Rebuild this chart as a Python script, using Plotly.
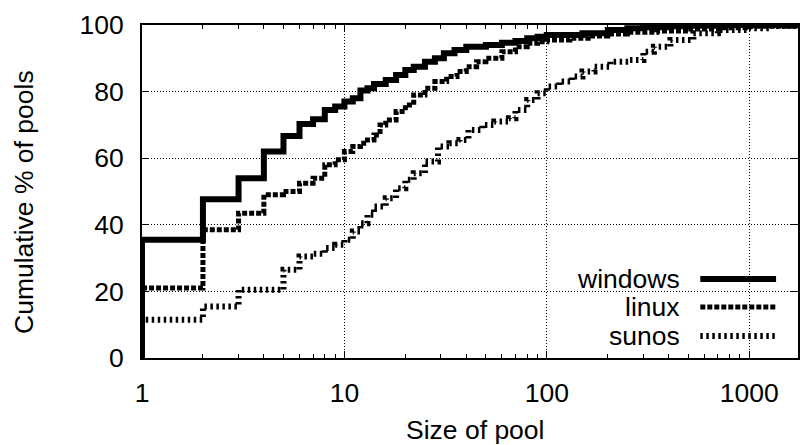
import plotly.graph_objects as go

# ---- data (step CDF points: pool size, cumulative %) ----
windows_x = [1, 1, 2, 3, 4, 5, 6, 7, 8, 9, 10, 11, 12, 13, 14, 16, 18, 20, 22, 25, 28, 31, 35, 40,
             50, 60, 70, 80, 90, 100, 150, 200, 250, 300, 400, 500, 700, 1750]
windows_y = [0, 35.5, 47.7, 54, 62, 66.7, 70.3, 71.7, 74.5, 75.5, 77, 78, 80.3, 81, 82.3, 83.5, 85,
             86.5, 87.5, 89, 90, 91.5, 92.5, 93.5, 94, 94.7, 95.2, 96, 96.5, 97, 97.5, 98.5, 99, 99.3,
             99.6, 99.8, 100, 100]

linux_x = [1, 1, 2, 3, 4, 5, 6, 7, 8, 9, 10, 11, 12, 13, 14, 15, 16, 18, 20, 22, 25, 28, 32, 36, 40,
           45, 50, 60, 70, 80, 90, 100, 130, 160, 200, 250, 350, 500, 700, 1000, 1750]
linux_y = [0, 21, 38.5, 43.5, 49, 50, 52.5, 54, 58, 59.5, 62, 63.5, 64.5, 65.5, 67, 70, 71.5, 74, 76,
           79, 81, 83, 84.5, 86, 87.5, 89, 90, 92, 93.5, 94.5, 95, 95.5, 96, 96.7, 97.3, 97.8, 98.2,
           98.8, 99.2, 99.6, 100]

sunos_x = [1, 1, 2, 3, 5, 6, 7, 8, 9, 10, 11, 12, 13, 14, 16, 18, 20, 22, 25, 29, 33, 37, 41, 48, 55,
           65, 70, 80, 90, 100, 115, 133, 150, 172, 206, 253, 300, 338, 408, 530, 700, 1000, 1300, 1750]
sunos_y = [0, 11.5, 15.5, 20.5, 26.5, 30.5, 31.3, 33, 34, 35.5, 38, 40.5, 43, 45.5, 48, 51, 53.5,
           55.5, 59, 63.5, 64.5, 65.5, 68.5, 70, 71, 72, 74.5, 77.5, 79.5, 81.5, 83, 84.5, 86, 87.5,
           89, 89.5, 92, 93.5, 95.5, 97.5, 98.5, 99, 99.7, 100]

series_names = ["windows", "linux", "sunos"]
x_ticks = [1, 10, 100, 1000]
y_ticks = [0, 20, 40, 60, 80, 100]

FONT = "Liberation Sans, Arial, Helvetica, sans-serif"
FS = 26.5

styles = {
    "windows": dict(color="black", width=6, dash="solid"),
    "linux": dict(color="black", width=5, dash="5px,2px"),
    "sunos": dict(color="black", width=6, dash="2.5px,3.5px"),
}

fig = go.Figure()
for name, xs, ys in [("windows", windows_x, windows_y),
                     ("linux", linux_x, linux_y),
                     ("sunos", sunos_x, sunos_y)]:
    fig.add_trace(go.Scatter(x=xs, y=ys, mode="lines", line_shape="hv",
                             line=styles[name], name=name, showlegend=False))

L, R, T, B = 142, 2, 25, 87
W, H = 802, 445
pw, ph = W - L - R, H - T - B

def px(xp):
    return (xp - L) / pw

def py(yp):
    return (H - B - yp) / ph

fig.update_layout(
    width=W, height=H, autosize=False,
    margin=dict(l=L, r=R, t=T, b=B, pad=0),
    paper_bgcolor="white", plot_bgcolor="white",
    font=dict(family=FONT, size=FS, color="black"),
    showlegend=False,
)

fig.update_xaxes(
    type="log", range=[0, 3.241],
    tickmode="array", tickvals=x_ticks, ticktext=[str(v) for v in x_ticks],
    ticks="inside", ticklen=7, tickwidth=1, tickcolor="black",
    minor=dict(ticks="inside", ticklen=4, tickwidth=1, tickcolor="black",
               tickmode="array",
               tickvals=[m * 10 ** e for e in range(0, 4) for m in range(2, 10) if m * 10 ** e < 1750],
               showgrid=False),
    showline=True, linecolor="black", linewidth=2, mirror="allticks",
    showgrid=True, gridcolor="black", gridwidth=1, griddash="1px,2px",
    zeroline=False, tickfont=dict(family=FONT, size=FS, color="black"),
    ticklabelstandoff=10,
)
fig.update_yaxes(
    range=[0, 100], tickmode="array", tickvals=y_ticks,
    ticks="inside", ticklen=7, tickwidth=1, tickcolor="black",
    showline=True, linecolor="black", linewidth=2, mirror="allticks",
    showgrid=True, gridcolor="black", gridwidth=1, griddash="1px,2px",
    zeroline=False, tickfont=dict(family=FONT, size=FS, color="black"),
    ticklabelstandoff=11,
)

# axis titles
fig.add_annotation(text="Cumulative % of pools", textangle=-90, xref="paper", yref="paper",
                   x=0, xshift=-(L - 24), y=py(202), xanchor="center", yanchor="middle",
                   showarrow=False, font=dict(family=FONT, size=FS, color="black"))
fig.add_annotation(text="Size of pool", xref="paper", yref="paper",
                   x=px(476), y=0, yshift=-(430 - (H - B)), xanchor="center", yanchor="middle",
                   showarrow=False, font=dict(family=FONT, size=FS, color="black"))

# key (gnuplot style: label left, sample right) on an opaque box
fig.add_shape(type="rect", xref="paper", yref="paper", x0=px(563), x1=px(797),
              y0=py(356), y1=py(265), fillcolor="white", line=dict(width=0), layer="between")
rows_y = [279, 307, 336]
for name, ry in zip(series_names, rows_y):
    fig.add_annotation(text=name, xref="paper", yref="paper", x=px(684), y=py(ry),
                       xanchor="right", yanchor="middle", showarrow=False,
                       font=dict(family=FONT, size=FS, color="black"))
    fig.add_shape(type="line", xref="paper", yref="paper", x0=px(702), x1=px(778),
                  y0=py(ry), y1=py(ry), line=styles[name])

fig.write_html("out.html")
